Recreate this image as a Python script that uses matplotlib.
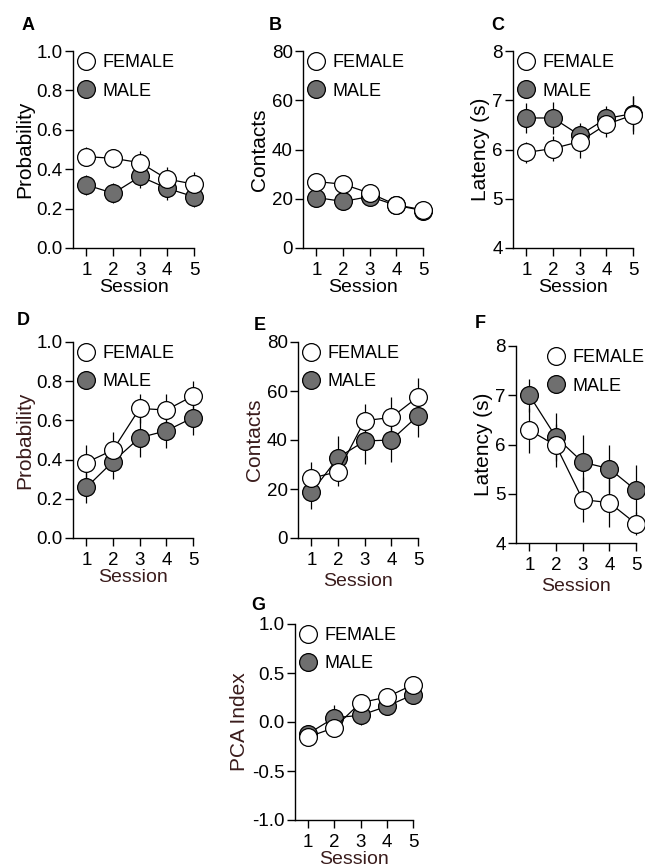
import numpy as np
import matplotlib.pyplot as plt
from matplotlib.lines import Line2D

plt.rcParams['font.family'] = ['Liberation Sans', 'DejaVu Sans']

sessions = [1, 2, 3, 4, 5]

# panel A - probability
a_female = [0.464, 0.455, 0.433, 0.350, 0.324]
a_female_sem = [0.05, 0.05, 0.06, 0.06, 0.06]
a_male = [0.320, 0.278, 0.363, 0.303, 0.260]
a_male_sem = [0.05, 0.05, 0.06, 0.06, 0.05]

# panel B - contacts
b_female = [27.0, 25.9, 22.3, 17.5, 15.5]
b_female_sem = [2.5, 2.5, 2.0, 2.0, 2.0]
b_male = [20.5, 18.9, 20.9, 17.3, 15.2]
b_male_sem = [3.0, 3.0, 2.0, 2.0, 2.0]

# panel C - latency
c_female = [5.94, 6.02, 6.16, 6.51, 6.70]
c_female_sem = [0.22, 0.25, 0.34, 0.25, 0.38]
c_male = [6.64, 6.64, 6.29, 6.63, 6.73]
c_male_sem = [0.30, 0.32, 0.25, 0.25, 0.35]

# panel D - probability
d_female = [0.385, 0.449, 0.661, 0.653, 0.725]
d_female_sem = [0.09, 0.09, 0.076, 0.08, 0.075]
d_male = [0.258, 0.390, 0.512, 0.547, 0.614]
d_male_sem = [0.08, 0.09, 0.10, 0.09, 0.09]

# panel E - contacts
e_female = [24.4, 27.1, 47.9, 49.2, 57.6]
e_female_sem = [6.5, 5.7, 6.7, 8.2, 7.9]
e_male = [18.6, 32.8, 39.6, 40.0, 49.9]
e_male_sem = [6.8, 9.0, 9.4, 8.8, 8.8]

# panel F - latency
f_female = [6.29, 5.98, 4.88, 4.82, 4.39]
f_female_sem = [0.46, 0.44, 0.45, 0.50, 0.23]
f_male = [7.00, 6.15, 5.64, 5.51, 5.07]
f_male_sem = [0.34, 0.48, 0.55, 0.49, 0.51]

# panel G - PCA index
g_female = [-0.153, -0.058, 0.197, 0.254, 0.380]
g_female_sem = [0.05, 0.08, 0.09, 0.09, 0.09]
g_male = [-0.120, 0.044, 0.068, 0.160, 0.278]
g_male_sem = [0.05, 0.13, 0.10, 0.09, 0.09]

W, H = 645, 868
fig = plt.figure(figsize=(W / 100, H / 100), dpi=100)

MAROON = '#3a1c1c'
GREY = '#6f6f6f'
MS = 12.8


def add_panel(l, t, r, b):
    return fig.add_axes([l / W, 1 - b / H, (r - l) / W, (b - t) / H])


def draw(ax, fem, fem_sem, mal, mal_sem, ylim, yticks, yticklabels, ylabel,
         letter, letter_xy, lab_color='black', x_color='black',
         leg_anchor=(0.035, 0.985), xpad=0):
    for vals, sem, face in [(mal, mal_sem, GREY), (fem, fem_sem, 'white')]:
        ax.errorbar(sessions, vals, yerr=sem, fmt='none', ecolor='black',
                    elinewidth=0.9, capsize=0, zorder=2, clip_on=False)
        ax.plot(sessions, vals, color='black', lw=0.9, marker='o', ms=MS,
                mfc=face, mec='black', mew=0.9, zorder=3, clip_on=False)
    ax.set_xlim(0.5, 5)
    ax.set_ylim(*ylim)
    ax.set_xticks(sessions)
    ax.set_yticks(yticks)
    ax.set_yticklabels(yticklabels)
    for s in ['top', 'right']:
        ax.spines[s].set_visible(False)
    for s in ['left', 'bottom']:
        ax.spines[s].set_linewidth(1.0)
    ax.tick_params(direction='out', length=5.8, width=1.0, labelsize=13.5)
    ax.tick_params(axis='x', pad=4.5)
    ax.tick_params(axis='y', pad=1.5)
    ax.set_ylabel(ylabel, fontsize=15, color=lab_color, labelpad=2)
    ax.set_xlabel('Session', fontsize=14, color=x_color, labelpad=xpad)
    handles = [Line2D([], [], ls='none', marker='o', ms=MS, mfc='white', mec='black', mew=0.9),
               Line2D([], [], ls='none', marker='o', ms=MS, mfc=GREY, mec='black', mew=0.9)]
    ax.legend(handles, ['FEMALE', 'MALE'], loc='upper left', bbox_to_anchor=leg_anchor,
              frameon=False, fontsize=13, handlelength=1.0, handletextpad=0.42,
              labelspacing=0.64, borderpad=0, borderaxespad=0)
    fig.text(letter_xy[0] / W, 1 - letter_xy[1] / H, letter, fontsize=13,
             fontweight='bold', ha='center', va='center')


ax_a = add_panel(73, 51, 194, 248)
draw(ax_a, a_female, a_female_sem, a_male, a_male_sem, (0, 1.0),
     [0, 0.2, 0.4, 0.6, 0.8, 1.0], ['0.0', '0.2', '0.4', '0.6', '0.8', '1.0'],
     'Probability', 'A', (28, 26))

ax_b = add_panel(303, 51, 423, 248)
draw(ax_b, b_female, b_female_sem, b_male, b_male_sem, (0, 80),
     [0, 20, 40, 60, 80], ['0', '20', '40', '60', '80'],
     'Contacts', 'B', (275, 26))

ax_c = add_panel(513, 51, 633, 248)
draw(ax_c, c_female, c_female_sem, c_male, c_male_sem, (4, 8),
     [4, 5, 6, 7, 8], ['4', '5', '6', '7', '8'],
     'Latency (s)', 'C', (498, 26))

ax_d = add_panel(73, 342, 193, 538)
draw(ax_d, d_female, d_female_sem, d_male, d_male_sem, (0, 1.0),
     [0, 0.2, 0.4, 0.6, 0.8, 1.0], ['0.0', '0.2', '0.4', '0.6', '0.8', '1.0'],
     'Probability', 'D', (23, 321), lab_color=MAROON, x_color=MAROON)

ax_e = add_panel(298, 342, 418, 538)
draw(ax_e, e_female, e_female_sem, e_male, e_male_sem, (0, 80),
     [0, 20, 40, 60, 80], ['0', '20', '40', '60', '80'],
     'Contacts', 'E', (260, 325), lab_color=MAROON, x_color=MAROON, xpad=3)

ax_f = add_panel(516, 346, 636, 543)
draw(ax_f, f_female, f_female_sem, f_male, f_male_sem, (4, 8),
     [4, 5, 6, 7, 8], ['4', '5', '6', '7', '8'],
     'Latency (s)', 'F', (480, 324), x_color=MAROON,
     leg_anchor=(0.255, 0.985), xpad=3)

ax_g = add_panel(295, 624, 413, 820)
draw(ax_g, g_female, g_female_sem, g_male, g_male_sem, (-1, 1),
     [-1, -0.5, 0, 0.5, 1], ['-1.0', '-0.5', '0.0', '0.5', '1.0'],
     'PCA Index', 'G', (258, 606), lab_color=MAROON, x_color=MAROON, xpad=-0.5)

fig.savefig('out.png', dpi=100)
